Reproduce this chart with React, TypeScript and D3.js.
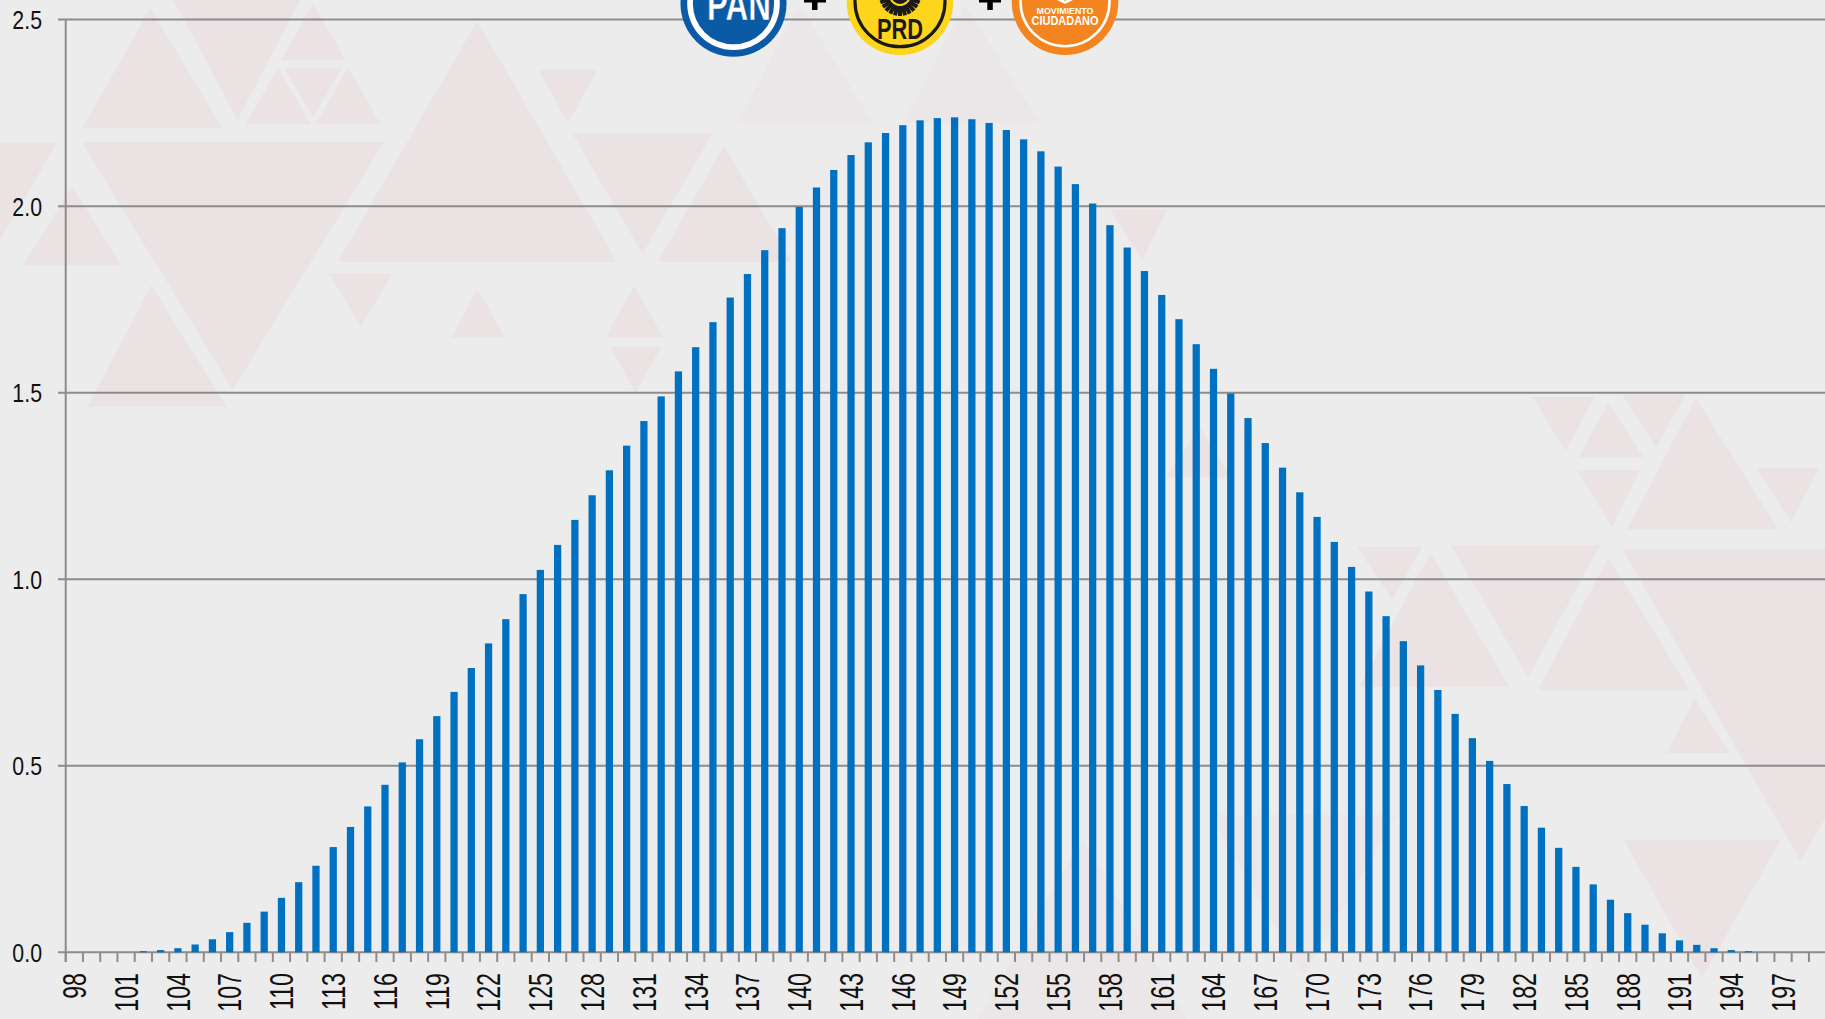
import React from 'react';
import * as d3 from 'd3';

// ---- data ----
const categories: number[] = d3.range(98, 200);
const values: number[] = [
  0, 0, 0, 0, 0.003, 0.006, 0.011, 0.021, 0.035, 0.054,
  0.079, 0.109, 0.146, 0.188, 0.232, 0.282, 0.336, 0.391, 0.449, 0.509,
  0.571, 0.633, 0.698, 0.762, 0.828, 0.893, 0.960, 1.025, 1.092, 1.159,
  1.225, 1.292, 1.358, 1.424, 1.490, 1.557, 1.622, 1.689, 1.755, 1.818,
  1.882, 1.941, 1.998, 2.050, 2.097, 2.137, 2.171, 2.196, 2.217, 2.230,
  2.236, 2.238, 2.233, 2.223, 2.204, 2.179, 2.147, 2.106, 2.059, 2.007,
  1.949, 1.889, 1.826, 1.762, 1.697, 1.630, 1.564, 1.498, 1.432, 1.365,
  1.299, 1.233, 1.167, 1.100, 1.033, 0.967, 0.901, 0.834, 0.769, 0.703,
  0.639, 0.574, 0.513, 0.451, 0.392, 0.334, 0.280, 0.229, 0.182, 0.141,
  0.105, 0.074, 0.051, 0.032, 0.020, 0.011, 0.006, 0.003, 0, 0,
  0, 0,
];
const xTickLabels: number[] = [98, 101, 104, 107, 110, 113, 116, 119, 122, 125, 128, 131, 134, 137, 140, 143, 146, 149, 152, 155, 158, 161, 164, 167, 170, 173, 176, 179, 182, 185, 188, 191, 194, 197];
const yTicks: number[] = [0, 0.5, 1.0, 1.5, 2.0, 2.5];

// ---- decoration (background triangles, preview coordinates) ----
const PREVIEW = 1825 / 1568;
const TRIS: number[][] = [
  [0, 123, 49, 123, 0, 206],
  [20, 228, 62, 160, 104, 228],
  [71, 110, 129, 7, 191, 110],
  [149, 0, 258, 0, 204, 103],
  [269, 3, 241, 52, 297, 52],
  [239, 58, 211, 107, 267, 107],
  [299, 58, 271, 107, 327, 107],
  [244, 58, 294, 58, 269, 101],
  [290, 225, 410, 18, 530, 225],
  [70, 122, 330, 122, 200, 335],
  [75, 350, 130, 245, 195, 350],
  [283, 235, 337, 235, 310, 280],
  [388, 290, 410, 248, 434, 290],
  [462, 60, 514, 60, 488, 105],
  [492, 115, 612, 115, 552, 218],
  [565, 225, 622, 125, 680, 225],
  [520, 290, 545, 245, 570, 290],
  [525, 298, 568, 298, 546, 338],
  [954, 180, 1003, 180, 981, 223],
  [1002, 410, 1031, 367, 1057, 410],
  [1317, 341, 1370, 341, 1345, 388],
  [1356, 393, 1382, 346, 1412, 393],
  [1355, 404, 1409, 404, 1385, 453],
  [1394, 339, 1448, 339, 1423, 385],
  [1398, 455, 1457, 342, 1528, 455],
  [1509, 402, 1563, 402, 1539, 449],
  [1166, 470, 1222, 470, 1196, 515],
  [1168, 590, 1229, 475, 1297, 590],
  [1246, 468, 1375, 468, 1313, 582],
  [1321, 593, 1382, 479, 1452, 593],
  [1394, 472, 1700, 472, 1547, 740],
  [1432, 647, 1456, 600, 1486, 647],
  [1395, 722, 1530, 722, 1462, 840],
];
const FAINT_TRIS: number[][] = [
  [633, 106, 687, 4, 750, 106],
  [776, 106, 829, 4, 894, 106],
  [1040, 700, 1200, 700, 1120, 838],
  [840, 876, 930, 720, 1020, 876],
];

const SANS = "'Liberation Sans', Arial, sans-serif";
const NARROW_X = 0.82; // Arial Narrow width ratio

export default function App() {
  const W = 1825;
  const H = 1019;
  const x0 = 65.7;
  const step = 17.26;
  const x = d3
    .scaleBand<number>()
    .domain(categories)
    .range([x0, x0 + step * categories.length])
    .paddingInner(0.58)
    .paddingOuter(0.29);
  const y = d3.scaleLinear().domain([0, 2.5]).range([952.3, 19.6]);
  const fmt = d3.format('.1f');
  const gridColor = '#8c8c8c';
  const bandStart = (c: number) => (x(c) as number) - x.paddingOuter() * x.step();

  const tri = (t: number[]) =>
    `${t[0] * PREVIEW},${t[1] * PREVIEW} ${t[2] * PREVIEW},${t[3] * PREVIEW} ${t[4] * PREVIEW},${t[5] * PREVIEW}`;

  const sunRays = d3.range(0, 13).map((i) => (Math.PI * (i + 0.5)) / 13);

  return (
    <svg
      width={W}
      height={H}
      viewBox={`0 0 ${W} ${H}`}
      style={{ position: 'absolute', left: 0, top: 0, display: 'block' }}
    >
      <rect x={0} y={0} width={W} height={H} fill="#ececec" />
      <g>
        {TRIS.map((t, i) => (
          <polygon key={'t' + i} points={tri(t)} fill="#ebe2e4" />
        ))}
        {FAINT_TRIS.map((t, i) => (
          <polygon key={'f' + i} points={tri(t)} fill="#ebe6e7" />
        ))}
      </g>

      {/* grid lines */}
      <g>
        {yTicks.map((v) => (
          <line key={'g' + v} x1={58} x2={W} y1={y(v)} y2={y(v)} stroke={gridColor} strokeWidth={2} />
        ))}
      </g>

      {/* bars */}
      <g>
        {categories.map((c, i) =>
          values[i] > 0 ? (
            <rect
              key={'b' + c}
              x={x(c)}
              y={y(values[i])}
              width={x.bandwidth()}
              height={y(0) - y(values[i])}
              fill="#0070c0"
            />
          ) : null
        )}
      </g>

      {/* axes */}
      <line x1={x0} x2={x0} y1={y(2.5)} y2={962} stroke={gridColor} strokeWidth={2} />
      <g>
        {categories.map((c) => (
          <line key={'tk' + c} x1={bandStart(c)} x2={bandStart(c)} y1={y(0)} y2={962} stroke={gridColor} strokeWidth={2} />
        ))}
      </g>
      <g fontFamily={SANS} fontSize={26} fill="#111">
        {yTicks.map((v) => (
          <text
            key={'yl' + v}
            transform={`translate(42,${y(v)}) scale(${NARROW_X},1)`}
            dy="0.36em"
            textAnchor="end"
          >
            {fmt(v)}
          </text>
        ))}
      </g>
      <g fontFamily={SANS} fontSize={28.3} fill="#111">
        {xTickLabels.map((c) => (
          <text
            key={'xl' + c}
            transform={`translate(${(x(c) as number) + x.bandwidth() / 2},973) rotate(-90) scale(${NARROW_X},1.16)`}
            dy="0.36em"
            textAnchor="end"
          >
            {c}
          </text>
        ))}
      </g>

      {/* party logos */}
      <g>
        {/* PAN */}
        <circle cx={733.5} cy={3.7} r={53} fill="#0b5aa6" />
        <circle cx={733.5} cy={3.7} r={46.3} fill="#ffffff" />
        <circle cx={733.5} cy={3.7} r={40.6} fill="#0b5aa6" />
        <text x={739} y={20} textAnchor="middle" fontFamily={SANS} fontWeight="bold" fontSize={44} fill="#ffffff" stroke="#0b5aa6" strokeWidth={0.5} textLength={64} lengthAdjust="spacingAndGlyphs">
          PAN
        </text>
        {/* plus */}
        <rect x={804} y={-2.5} width={22} height={5} fill="#000" />
        <rect x={812} y={-11} width={5.5} height={21} fill="#000" />
        {/* PRD */}
        <circle cx={900} cy={1.7} r={53.3} fill="#fdd51c" />
        <circle cx={900} cy={1.7} r={45} fill="none" stroke="#1a1a1a" strokeWidth={3.2} />
        <circle cx={900} cy={-5} r={9} fill="#1a1a1a" />
        {sunRays.map((a, i) => (
          <line
            key={'ray' + i}
            x1={900 + Math.cos(a) * 11}
            y1={-5 + Math.sin(a) * 11}
            x2={900 + Math.cos(a) * 21}
            y2={-5 + Math.sin(a) * 21}
            stroke="#1a1a1a"
            strokeWidth={4}
          />
        ))}
        <text x={900} y={38.5} textAnchor="middle" fontFamily={SANS} fontWeight="bold" fontSize={30} fill="#1a1a1a" textLength={46} lengthAdjust="spacingAndGlyphs">
          PRD
        </text>
        {/* plus */}
        <rect x={979} y={-2.5} width={22} height={5} fill="#000" />
        <rect x={987.3} y={-11} width={5.5} height={21} fill="#000" />
        {/* Movimiento Ciudadano */}
        <circle cx={1065} cy={1.7} r={53.3} fill="#f4841f" />
        <circle cx={1065} cy={1.7} r={44.5} fill="none" stroke="#ffffff" strokeWidth={2.6} />
        <path d="M1057,0 L1065,4 L1073,0 L1069,-2 L1065,1 L1061,-2 Z" fill="#ffffff" />
        <text x={1065} y={14} textAnchor="middle" fontFamily={SANS} fontWeight="bold" fontSize={8.2} fill="#ffffff" textLength={57} lengthAdjust="spacingAndGlyphs">
          MOVIMIENTO
        </text>
        <text x={1065} y={24.5} textAnchor="middle" fontFamily={SANS} fontWeight="bold" fontSize={12} fill="#ffffff" textLength={67} lengthAdjust="spacingAndGlyphs">
          CIUDADANO
        </text>
      </g>
    </svg>
  );
}
